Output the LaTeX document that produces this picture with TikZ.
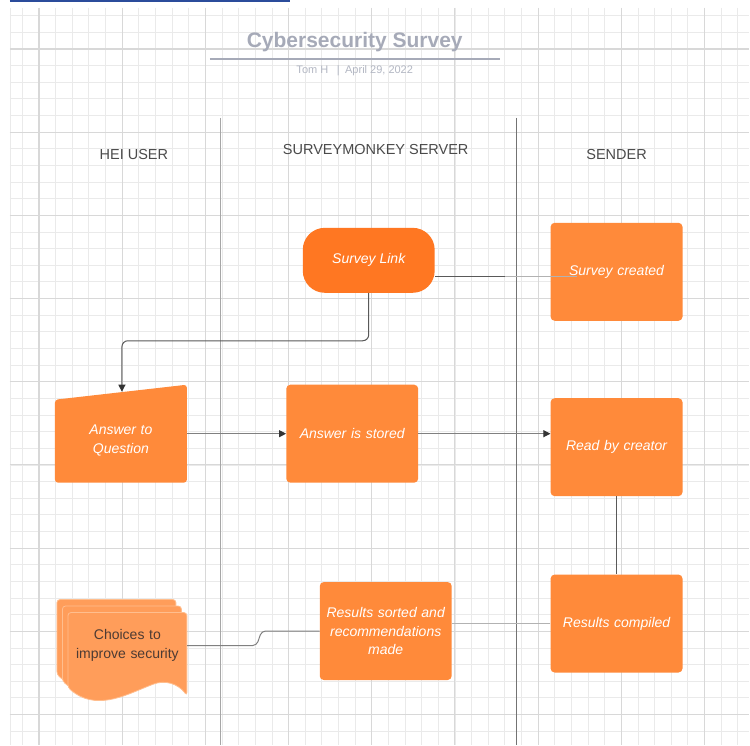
\documentclass[tikz,border=0pt]{standalone}
\usepackage{fontspec}
\setmainfont{Liberation Sans}
\usetikzlibrary{arrows.meta}

\definecolor{linkorange}{HTML}{FF7722}
\definecolor{boxorange}{HTML}{FF8A3A}
\definecolor{docorange}{HTML}{FF9D5A}
\definecolor{docedge}{HTML}{FFBE8E}
\definecolor{choicetext}{HTML}{4D3B33}
\definecolor{gridminor}{HTML}{EAEAEA}
\definecolor{gridmajor}{HTML}{D8D8D8}
\definecolor{titlegray}{HTML}{A6AAB8}
\definecolor{headgray}{HTML}{4A4A4A}
\definecolor{hyperblue}{HTML}{2B4C9B}

\begin{document}
\begin{tikzpicture}[
        x=1pt, y=-1pt,
        processbox/.style={fill=boxorange, rounded corners=4pt,
            minimum width=132pt, minimum height=98pt, inner sep=0pt,
            text width=128pt, align=center, text=white,
            font=\fontsize{14}{18.5}\selectfont\itshape},
        lanehead/.style={text=headgray, font=\fontsize{14.5}{17}\selectfont},
        lane/.style={line width=1.1pt},
        darkline/.style={draw=black!65, line width=1pt},
        midline/.style={draw=black!50, line width=1pt},
        faintline/.style={draw=black!30, line width=1pt},
        tip/.style={-{Triangle[length=7pt,width=7pt,color=black!80]}},
        docpath/.style={fill=docorange, draw=docedge, line width=0.8pt, rounded corners=3pt},
    ]
        % background grid
        \fill[white] (0,0) rectangle (750,746);
        \foreach \k in {-1,...,42}
            \draw[gridminor, line width=0.8pt] ({39+16.65*\k},8) -- ({39+16.65*\k},746);
        \foreach \k in {-2,...,41}
            \draw[gridminor, line width=0.8pt] (10,{49+16.65*\k}) -- (750,{49+16.65*\k});
        \draw[gridminor, line width=0.8pt] (10,8) -- (10,746);
        \foreach \k in {0,...,8}
            \draw[gridmajor, line width=1.1pt] ({39+83.25*\k},8) -- ({39+83.25*\k},746);
        \foreach \k in {0,...,8}
            \draw[gridmajor, line width=1.1pt] (10,{49+83.25*\k}) -- (750,{49+83.25*\k});
        \draw[hyperblue, line width=2pt] (10,1) -- (290,1);

        % title
        \node[text=titlegray, font=\bfseries\fontsize{21}{25}\selectfont] (title) at (355,42) {Cybersecurity Survey};
        \draw[titlegray, line width=1.3pt] (210,59) -- (500,59);
        \node[text=titlegray!85, font=\fontsize{11}{13}\selectfont] (byline) at (355,71) {Tom H \enspace|\enspace April 29, 2022};

        % lanes
        \draw[lane, black!35] (221,118) -- (221,746);
        \draw[lane, black!55] (517,118) -- (517,746);
        \node[lanehead] (hei) at (134,155) {HEI USER};
        \node[lanehead] (server) at (376,150) {SURVEYMONKEY SERVER};
        \node[lanehead] (sender) at (617,155) {SENDER};

        % steps
        \node[fill=linkorange, rounded corners=22pt, minimum width=132pt, minimum height=65pt,
            text=white, font=\fontsize{14}{17}\selectfont\itshape] (link) at (369,260.5) {Survey Link};
        \node[processbox] (created) at (617,272) {Survey created};
        \fill[boxorange, rounded corners=3pt] (55,400) -- (187,385) -- (187,483) -- (55,483) -- cycle;
        \node[minimum width=132pt, minimum height=84pt, inner sep=0pt, text width=128pt, align=center,
            text=white, font=\fontsize{14}{18.5}\selectfont\itshape] (answer) at (121,441) {Answer to\\Question};
        \coordinate (answertop) at (122,392);
        \node[processbox] (stored) at (352.5,434) {Answer is stored};
        \node[processbox] (read) at (617,447.5) {Read by creator};
        \node[processbox] (compiled) at (617,624) {Results compiled};
        \node[processbox] (sorted) at (386,631.5) {Results sorted and\\recommendations\\made};

        % multiple documents
        \foreach \dx/\dy in {-11/-13, -5.5/-6.5, 0/0}
            \path[docpath, shift={(\dx,\dy)}] (68,613) -- (187,613) -- (187,696)
                .. controls (178,684) and (165,680) .. (150,686)
                .. controls (125,696) and (95,712) .. (68,688) -- cycle;
        \node[inner sep=0pt, text width=119pt, align=center, text=choicetext,
            font=\fontsize{14}{18.5}\selectfont] (choices) at (127.5,646) {Choices to\\improve security};

        % connectors
        \coordinate (bend) at (122,341);
        \draw[darkline, tip, rounded corners=6pt] (link.south) |- (bend) -- (answertop);
        \draw[darkline] (link.-14) -- ++(70,0) coordinate (fade);
        \draw[faintline] (fade) -- ++(72,0);
        \draw[midline, tip] (answer.east |- stored.west) -- (stored.west);
        \draw[midline, tip] (stored.east) -- (stored.east -| read.west);
        \draw[darkline] (read.south) -- (compiled.north);
        \draw[faintline] (compiled.west) -- (compiled.west -| sorted.east);
        \draw[midline, rounded corners=4pt] (sorted.west) -- ++(-58,0) -- ++(-5,14.5) -- (choices.east);
    \end{tikzpicture}
\end{document}
